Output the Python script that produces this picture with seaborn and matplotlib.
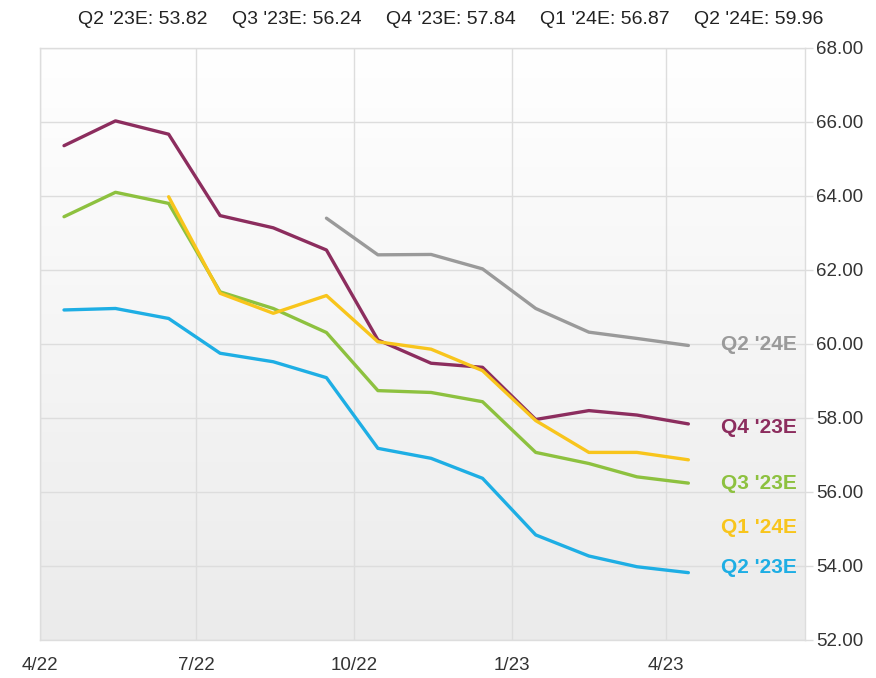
import numpy as np
import pandas as pd
import matplotlib
matplotlib.use("Agg")
import matplotlib.pyplot as plt
import matplotlib.transforms as mtransforms
from matplotlib.colors import LinearSegmentedColormap
import seaborn as sns

# ---- data ----
dates = ['2022-04-15', '2022-05-15', '2022-06-15', '2022-07-15', '2022-08-15',
         '2022-09-15', '2022-10-15', '2022-11-15', '2022-12-15', '2023-01-15',
         '2023-02-15', '2023-03-15', '2023-04-14']
series_names = ["Q2 '23E", "Q3 '23E", "Q4 '23E", "Q1 '24E", "Q2 '24E"]
q2_23 = [60.92, 60.96, 60.69, 59.75, 59.52, 59.09, 57.18, 56.91, 56.37, 54.84, 54.27, 53.98, 53.82]
q3_23 = [63.44, 64.10, 63.80, 61.41, 60.96, 60.31, 58.74, 58.69, 58.44, 57.07, 56.77, 56.41, 56.24]
q4_23 = [65.36, 66.03, 65.67, 63.47, 63.14, 62.54, 60.11, 59.48, 59.37, 57.96, 58.20, 58.08, 57.84]
q1_24 = [None, None, 63.98, 61.37, 60.83, 61.31, 60.06, 59.86, 59.28, 57.93, 57.07, 57.07, 56.87]
q2_24 = [None, None, None, None, None, 63.40, 62.41, 62.42, 62.03, 60.96, 60.32, 60.15, 59.96]
header_values = ["53.82", "56.24", "57.84", "56.87", "59.96"]
x_tick_dates = ['2022-04-01', '2022-07-01', '2022-10-01', '2023-01-01', '2023-04-01']
x_tick_labels = ['4/22', '7/22', '10/22', '1/23', '4/23']
y_ticks = [52, 54, 56, 58, 60, 62, 64, 66, 68]
end_label_y = [53.95, 56.24, 57.73, 55.03, 60.0]

colors = {"Q2 '23E": '#1eaee4', "Q3 '23E": '#8dc13f', "Q4 '23E": '#8c2d5e',
          "Q1 '24E": '#f8c51c', "Q2 '24E": '#9a9a9a'}

rows = []
for name, vals in zip(series_names, [q2_23, q3_23, q4_23, q1_24, q2_24]):
    for d, v in zip(dates, vals):
        if v is not None:
            rows.append({'date': pd.Timestamp(d), 'value': v, 'series': name})
df = pd.DataFrame(rows)

sns.set_theme(style='white')
plt.rcParams['font.family'] = ['Liberation Sans', 'DejaVu Sans']

fig = plt.figure(figsize=(8.76, 6.78), dpi=100)
ax = fig.add_axes([40 / 876, 1 - 640 / 678, (805 - 40) / 876, (640 - 48) / 678])

# gradient background
grad = np.linspace(0, 1, 256).reshape(-1, 1)
cmap = LinearSegmentedColormap.from_list('bg', ['#ffffff', '#ebebeb'])
ax.imshow(grad, cmap=cmap, aspect='auto', extent=[0, 1, 0, 1],
          transform=ax.transAxes, zorder=0, origin='upper')

sns.lineplot(data=df, x='date', y='value', hue='series', hue_order=series_names,
             palette=colors, linewidth=2.4, legend=False, ax=ax, zorder=3,
             estimator=None, sort=True)

ax.set_xlim(pd.Timestamp('2022-04-01'), pd.Timestamp('2023-06-21'))
ax.set_ylim(52, 68)
ax.set_xticks([pd.Timestamp(d) for d in x_tick_dates])
ax.set_xticklabels(x_tick_labels)
ax.set_yticks(y_ticks)
ax.set_yticklabels([f'{v:.2f}' for v in y_ticks])
ax.yaxis.tick_right()
ax.tick_params(axis='y', length=6, width=1, color='#dddddd', pad=2,
               labelsize=13.5, labelcolor='#333333')
ax.tick_params(axis='x', length=0, pad=12, labelsize=13.5, labelcolor='#333333')
ax.set_xlabel('')
ax.set_ylabel('')
ax.grid(True, color='#dddddd', linewidth=1, zorder=1)
ax.set_axisbelow(True)
for s in ax.spines.values():
    s.set_color('#dddddd')
    s.set_linewidth(1)

# end labels
trans = mtransforms.blended_transform_factory(ax.transAxes, ax.transData)
for name, yl in zip(series_names, end_label_y):
    ax.text(0.9895, yl, name, transform=trans, ha='right', va='center',
            fontsize=15, fontweight='bold', color=colors[name], zorder=4)

# header
for i, (name, val) in enumerate(zip(series_names, header_values)):
    fig.text((143 + 154 * i) / 876, 1 - 20 / 678, f'{name}: {val}',
             ha='center', va='center', fontsize=14, color='#222222')

fig.savefig('out.png', dpi=100)
